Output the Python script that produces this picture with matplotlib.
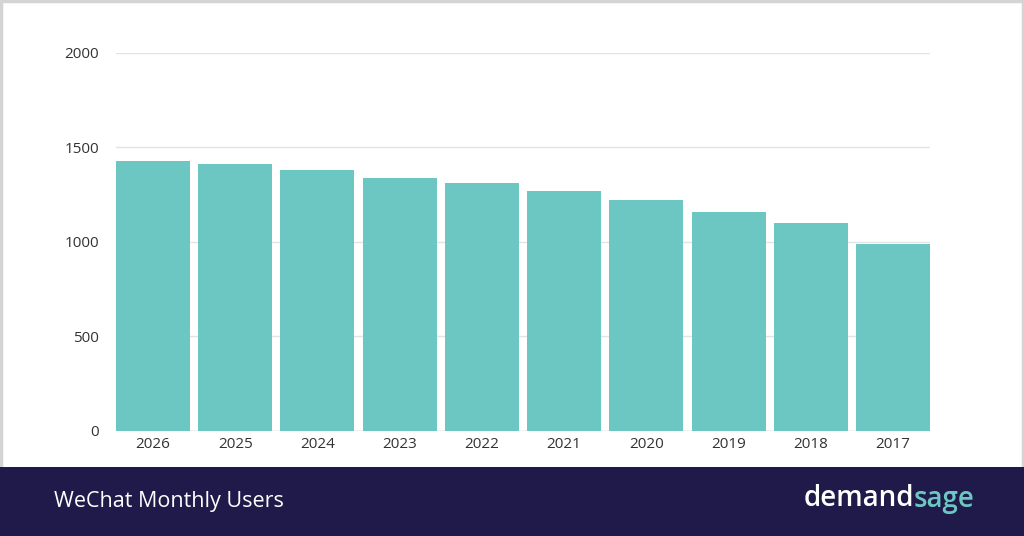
import matplotlib.pyplot as plt
from matplotlib.patches import Rectangle

years = ['2026', '2025', '2024', '2023', '2022', '2021', '2020', '2019', '2018', '2017']
users = [1430, 1410, 1380, 1339, 1311, 1269, 1220, 1160, 1099, 988]
yticks = [0, 500, 1000, 1500, 2000]

plt.rcParams['font.family'] = ['Open Sans', 'DejaVu Sans']

fig = plt.figure(figsize=(10.24, 5.36), dpi=100)
fig.patch.set_facecolor('white')

footer_h = 69 / 536
# thin grey frame around the chart area only
fig.patches.append(Rectangle((0.0012, footer_h - 0.01), 0.9976, 0.9978 - footer_h + 0.01,
                             transform=fig.transFigure, facecolor='none',
                             edgecolor='#d4d4d4', linewidth=2.5, zorder=0))
# dark footer band
fig.patches.append(Rectangle((0, 0), 1, footer_h, transform=fig.transFigure,
                             facecolor='#1f1a4a', edgecolor='none', zorder=1))

ax = fig.add_axes([0.1133, 0.1968, 0.7949, 0.7044])
x = range(len(years))
ax.bar(x, users, width=0.9, color='#6cc7c2', zorder=2)

ax.set_xlim(-0.45, len(years) - 0.55)
ax.set_ylim(0, 2000)
ax.set_yticks(yticks)
ax.set_xticks(list(x))
ax.set_xticklabels(years)
ax.grid(axis='y', color='#e3e3e3', linewidth=1, zorder=0)
ax.axhline(0, color='#cccccc', linewidth=1, zorder=1)
for s in ax.spines.values():
    s.set_visible(False)
ax.tick_params(length=0, labelsize=11, labelcolor='#333333')
ax.tick_params(axis='y', pad=12)
ax.tick_params(axis='x', pad=5)

fig.text(54 / 1024, 1 - 502 / 536, 'WeChat Monthly Users', color='white',
         fontsize=15.5, va='center', ha='left')
fig.text(914 / 1024, 1 - 499 / 536, 'demand', color='white', fontsize=20,
         fontweight='semibold', va='center', ha='right')
fig.text(914 / 1024, 1 - 499 / 536, 'sage', color='#6cc7c2', fontsize=20,
         fontweight='semibold', va='center', ha='left')

fig.savefig('out.png', dpi=100)
